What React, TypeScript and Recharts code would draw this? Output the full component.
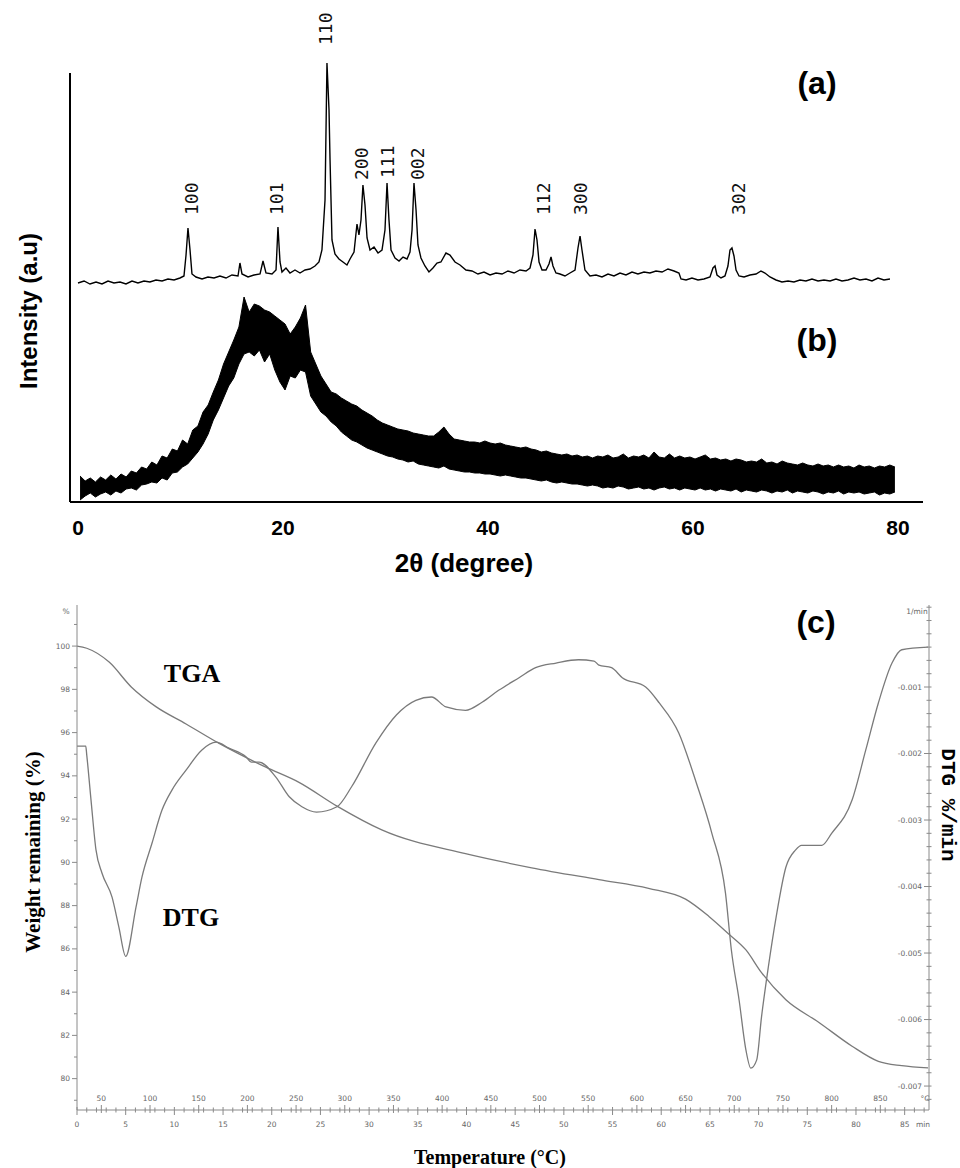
import { ComposedChart, Line, Area, XAxis, YAxis, ReferenceLine, ReferenceDot } from 'recharts'

// ---------- XRD, panel (a): [2θ, intensity a.u.]
const patternA: [number, number][] = [
  [0, 219], [0.59, 221], [1.17, 218], [1.76, 220], [2.34, 218], [2.93, 221], [3.51, 219], [4.1, 220],
  [4.68, 218], [5.27, 221], [5.85, 219], [6.44, 221], [7.02, 220], [7.61, 222], [8.2, 221], [8.78, 223],
  [9.37, 222], [9.95, 224], [10.34, 226], [10.54, 247], [10.73, 274], [10.93, 252], [11.12, 228],
  [11.51, 225], [12.1, 223], [12.68, 225], [13.27, 224], [13.85, 226], [14.44, 224], [15.02, 227],
  [15.61, 226], [15.8, 239], [16.0, 228], [16.59, 225], [17.17, 227], [17.76, 228], [18.05, 241],
  [18.34, 229], [18.93, 228], [19.32, 232], [19.51, 275], [19.71, 240], [19.9, 230], [20.29, 234],
  [20.68, 229], [21.17, 232], [21.66, 229], [22.15, 232], [22.63, 233], [23.12, 236], [23.51, 240],
  [23.8, 252], [24.1, 302], [24.29, 439], [24.49, 392], [24.59, 342], [24.78, 262], [25.07, 248],
  [25.46, 243], [25.85, 240], [26.24, 237], [26.54, 243], [26.93, 250], [27.22, 278], [27.41, 267],
  [27.61, 282], [27.8, 317], [28.0, 297], [28.2, 264], [28.49, 252], [28.88, 255], [29.27, 249],
  [29.66, 252], [29.95, 272], [30.15, 319], [30.34, 282], [30.54, 252], [30.93, 244], [31.32, 241],
  [31.71, 245], [32.1, 243], [32.39, 250], [32.59, 272], [32.78, 319], [32.98, 292], [33.17, 257],
  [33.46, 244], [33.85, 236], [34.24, 230], [34.63, 234], [35.02, 239], [35.41, 240], [35.9, 249],
  [36.29, 247], [36.78, 240], [37.27, 237], [37.85, 232], [38.44, 231], [39.02, 228], [39.61, 230],
  [40.2, 227], [40.78, 229], [41.37, 228], [41.95, 231], [42.54, 229], [43.12, 232], [43.71, 231],
  [44.1, 234], [44.39, 247], [44.59, 273], [44.78, 262], [44.98, 240], [45.27, 232], [45.66, 232],
  [45.95, 238], [46.15, 245], [46.34, 236], [46.63, 229], [47.02, 228], [47.51, 226], [48.0, 229],
  [48.49, 232], [48.78, 254], [48.98, 266], [49.17, 252], [49.46, 232], [49.95, 226], [50.54, 227],
  [51.12, 225], [51.71, 228], [52.29, 226], [52.88, 229], [53.46, 227], [54.05, 230], [54.63, 228],
  [55.22, 230], [55.8, 229], [56.39, 231], [56.98, 230], [57.56, 233], [58.15, 231], [58.63, 229],
  [58.83, 223], [59.32, 222], [59.9, 224], [60.49, 222], [61.07, 223], [61.66, 225], [61.95, 234],
  [62.15, 236], [62.34, 227], [62.73, 224], [63.12, 226], [63.41, 236], [63.61, 252], [63.8, 254],
  [64.0, 246], [64.2, 232], [64.49, 226], [64.98, 225], [65.56, 227], [66.15, 228], [66.63, 231],
  [67.02, 229], [67.51, 225], [68.1, 222], [68.68, 220], [69.27, 221], [69.85, 220], [70.44, 222],
  [71.02, 221], [71.61, 223], [72.2, 221], [72.78, 222], [73.37, 221], [73.95, 223], [74.54, 221],
  [75.12, 222], [75.71, 224], [76.29, 222], [76.88, 223], [77.46, 221], [78.05, 224], [78.63, 222],
  [79.22, 223],
]

// ---------- XRD, panel (b): noisy amorphous band, read every 0.5° from 0.2°
const bandHigh = [
  26, 21, 24, 20, 25, 22, 27, 23, 28, 25, 31, 29, 35, 33, 40, 37, 46, 44, 53, 51,
  62, 58, 72, 76, 90, 97, 110, 122, 138, 150, 162, 175, 205, 190, 198, 196, 192, 190, 186, 182,
  178, 168, 175, 184, 197, 150, 138, 126, 118, 110, 108, 104, 101, 98, 96, 92, 89, 86, 82, 79,
  77, 75, 73, 72, 71, 69, 68, 67, 66, 66, 70, 75, 68, 63, 62, 61, 60, 60, 59, 61,
  59, 58, 59, 57, 56, 55, 54, 55, 53, 52, 50, 51, 49, 48, 47, 48, 46, 47, 45, 46,
  44, 46, 45, 47, 44, 45, 48, 44, 46, 45, 47, 44, 50, 45, 44, 48, 44, 46, 44, 45,
  43, 45, 47, 43, 44, 42, 43, 41, 43, 42, 40, 41, 40, 43, 39, 40, 38, 41, 39, 38,
  37, 39, 37, 36, 38, 36, 37, 35, 37, 35, 36, 34, 37, 35, 36, 34, 36, 35, 37, 35,
]
const bandLow = [
  2, 6, 9, 5, 8, 10, 7, 11, 9, 13, 14, 12, 17, 18, 20, 19, 24, 22, 29, 30,
  35, 38, 44, 50, 58, 68, 82, 92, 104, 116, 124, 138, 148, 150, 146, 152, 140, 148, 132, 120,
  112, 126, 124, 132, 130, 106, 98, 90, 86, 80, 76, 70, 66, 62, 60, 57, 54, 52, 50, 48,
  46, 45, 43, 42, 40, 41, 38, 37, 36, 35, 34, 36, 33, 32, 31, 30, 30, 29, 29, 28,
  28, 27, 26, 27, 26, 25, 24, 24, 23, 22, 21, 22, 20, 19, 20, 19, 18, 18, 17, 16,
  17, 16, 14, 15, 14, 16, 15, 13, 14, 15, 13, 14, 12, 14, 15, 13, 14, 12, 14, 13,
  12, 14, 12, 13, 11, 13, 12, 11, 13, 10, 12, 11, 10, 12, 11, 9, 11, 10, 12, 9,
  11, 10, 9, 11, 10, 8, 10, 9, 11, 8, 10, 9, 10, 8, 9, 10, 7, 9, 8, 10,
]

const hklNames = ['100', '101', '110', '200', '111', '002', '112', '300', '302']
const hklTheta = [11.1, 19.4, 24.1, 27.7, 30.2, 33.1, 45.4, 49.0, 64.4]
const hklLevel = [287, 287, 457, 322, 324, 322, 287, 287, 287]
const thetaTicks = [0, 20, 40, 60, 80]

// ---------- TGA / DTG (time in min)
const tgaTime = [0, 1.0, 3.3, 5.6, 8.1, 11.2, 14.6, 19.4, 22.8, 26.7, 31.3, 39.9, 46.7, 53.6, 58.7,
  62.5, 64.9, 66.9, 68.7, 70.3, 72.8, 76.2, 79.6, 82.3, 84.7, 87.4]
const tgaWeight = [100.0, 99.9, 99.26, 98.1, 97.2, 96.4, 95.5, 94.4, 93.7, 92.6, 91.5, 90.4, 89.75,
  89.2, 88.8, 88.3, 87.5, 86.7, 85.95, 84.9, 83.65, 82.6, 81.5, 80.8, 80.6, 80.5]

const dtgTime = [0, 0.9, 1.0, 1.44, 1.95, 2.57, 3.6, 4.3, 5.0, 6.06, 6.67, 7.7, 8.73, 9.75, 11.2, 12.8,
  14.3, 15.6, 17.35, 17.9, 18.7, 20.4, 21.8, 23.1, 24.6, 26.7, 28.2, 30.7, 32.8, 34.8, 36.4, 37.9,
  39.9, 41.6, 43.3, 45.4, 47.1, 49.2, 51.5, 53.1, 53.6, 54.9, 56.0, 58.4, 59.8, 61.8, 63.6, 65.2,
  66.6, 67.2, 68.0, 68.7, 69.2, 69.8, 70.3, 71.0, 71.8, 72.8, 73.8, 74.4, 76.5, 77.5, 79.6, 81.0,
  82.3, 83.7, 84.7, 87.4]
const dtgRate = [-0.00189, -0.00189, -0.00202, -0.0027, -0.00345, -0.0038, -0.00416, -0.00461, -0.00505,
  -0.00431, -0.00386, -0.00335, -0.00285, -0.00255, -0.00225, -0.00195, -0.00183, -0.00192, -0.00205,
  -0.00213, -0.00213, -0.00235, -0.00265, -0.0028, -0.00288, -0.0028, -0.0025, -0.00184, -0.00142,
  -0.0012, -0.00115, -0.0013, -0.00135, -0.00123, -0.00105, -0.00086, -0.00071, -0.00064, -0.00059,
  -0.00061, -0.00067, -0.00071, -0.00086, -0.001, -0.00124, -0.00169, -0.00244, -0.0032, -0.0041,
  -0.00495, -0.00571, -0.00646, -0.00673, -0.00661, -0.00596, -0.00521, -0.00446, -0.00371, -0.00345,
  -0.00338, -0.00338, -0.0032, -0.0027, -0.00195, -0.00124, -0.00064, -0.00044, -0.0004]

const weightTicks = [79, 80, 81, 82, 83, 84, 85, 86, 87, 88, 89, 90, 91, 92, 93, 94, 95, 96, 97, 98, 99, 100, 101]
const rateLabels = [-0.001, -0.002, -0.003, -0.004, -0.005, -0.006, -0.007]
const rateTicks = Array.from({ length: 38 }, (_, i) => +(-0.0072 + i * 0.0002).toFixed(4))
const timeTicks = Array.from({ length: 175 }, (_, i) => i * 0.5)

const aData = patternA.map(([theta, v]) => ({ theta, v }))
const bData = bandHigh.map((hi, i) => ({ theta: 0.2 + i * 0.5, band: [bandLow[i], hi] }))
const tgaData = tgaTime.map((t, i) => ({ t, w: tgaWeight[i] }))
const dtgData = dtgTime.map((t, i) => ({ t, d: dtgRate[i] }))

const GRAY = '#8a8a8a'
const small = { fontSize: 7.5, fill: '#666', fontFamily: 'DejaVu Sans' }

const HklLabel = (name: string) => (p: any) => (
  <text x={p.cx} y={p.cy} transform={`rotate(-90 ${p.cx} ${p.cy})`} textAnchor="start"
    dominantBaseline="central" fontSize={18} fontFamily="DejaVu Sans Mono" fill="#111">
    {name}
  </text>
)

const TimeTick = (p: any) => {
  const { x, y } = p
  const t = p.payload.value
  if (t % 5 === 0) {
    return (
      <g>
        <line x1={x} x2={x} y1={y - 3} y2={y + 5} stroke={GRAY} />
        <text x={x} y={y + 14} textAnchor="middle" dominantBaseline="central" {...small}>{t}</text>
      </g>
    )
  }
  if ((t - 2.5) % 5 === 0) {
    return (
      <g>
        <line x1={x} x2={x} y1={y - 5} y2={y + 3} stroke={GRAY} />
        <text x={x} y={y - 12} textAnchor="middle" dominantBaseline="central" {...small}>{25 + t * 10}</text>
      </g>
    )
  }
  if (Number.isInteger(t)) return <line x1={x} x2={x} y1={y - 2.5} y2={y + 2.5} stroke={GRAY} />
  return <g />
}

const WeightTick = (p: any) => {
  const { x, y } = p
  const v = p.payload.value
  const major = v % 2 === 0
  return (
    <g>
      <line x1={x - (major ? 5 : 3)} x2={x} y1={y} y2={y} stroke={GRAY} />
      {major && <text x={x - 7} y={y} textAnchor="end" dominantBaseline="central" {...small}>{v}</text>}
    </g>
  )
}

const RateTick = (p: any) => {
  const { x, y } = p
  const v = p.payload.value
  const major = rateLabels.some((r) => Math.abs(r - v) < 1e-7)
  return (
    <g>
      <line x1={x - (major ? 5 : 2.5)} x2={x + 2.5} y1={y} y2={y} stroke={GRAY} />
      {major && <text x={x - 7} y={y} textAnchor="end" dominantBaseline="central" {...small}>{v.toFixed(3)}</text>}
    </g>
  )
}

export default function App() {
  const sans = 'Liberation Sans, Arial, sans-serif'
  const serif = 'Liberation Serif, Times New Roman, serif'
  return (
    <div style={{ position: 'absolute', left: 0, top: 0, width: 960, height: 1168, background: '#fff' }}>
      <div style={{ position: 'absolute', left: 0, top: 0 }}>
        <ComposedChart width={960} height={580} margin={{ top: 10, right: 37, bottom: 48, left: 70 }}>
          <XAxis type="number" dataKey="theta" domain={[-0.78, 82.44]} ticks={thetaTicks} interval={0}
            height={30} tickLine={false} tickSize={6} tickMargin={12}
            axisLine={{ stroke: '#000', strokeWidth: 2 }}
            tick={{ fontSize: 21, fontWeight: 700, fill: '#000', fontFamily: sans }} />
          <YAxis hide type="number" domain={[0, 492]} />
          <ReferenceLine segment={[{ x: -0.78, y: 0 }, { x: -0.78, y: 429 }]} stroke="#000" strokeWidth={2}
            ifOverflow="visible" />
          <Area data={bData} dataKey="band" type="linear" stroke="#000" strokeWidth={1} fill="#000"
            fillOpacity={1} dot={false} activeDot={false} isAnimationActive={false} />
          <Line data={aData} dataKey="v" type="linear" stroke="#000" strokeWidth={1.4} dot={false}
            activeDot={false} isAnimationActive={false} />
          {hklNames.map((n, i) => (
            <ReferenceDot key={n} x={hklTheta[i]} y={hklLevel[i]} r={0} shape={HklLabel(n)} />
          ))}
        </ComposedChart>
      </div>

      <div style={{ position: 'absolute', left: 0, top: 580 }}>
        <ComposedChart width={960} height={588} margin={{ top: 25, right: 0, bottom: 28, left: 27 }}>
          <XAxis type="number" dataKey="t" domain={[0, 87.5]} ticks={timeTicks} interval={0} height={30}
            tickSize={0} tickMargin={0} tickLine={false} axisLine={{ stroke: GRAY }} tick={TimeTick} />
          <YAxis yAxisId="w" orientation="left" type="number" width={50} domain={[78.55, 101.9]}
            ticks={weightTicks} interval={0} tickSize={0} tickMargin={0} tickLine={false}
            axisLine={{ stroke: GRAY }} tick={WeightTick} />
          <YAxis yAxisId="d" orientation="right" type="number" width={31} domain={[-0.00736, 0.000233]}
            ticks={rateTicks} interval={0} tickSize={0} tickMargin={0} tickLine={false}
            axisLine={{ stroke: GRAY }} tick={RateTick} />
          <Line yAxisId="w" data={tgaData} dataKey="w" type="monotone" stroke="#7a7a7a" strokeWidth={1.3}
            dot={false} activeDot={false} isAnimationActive={false} />
          <Line yAxisId="d" data={dtgData} dataKey="d" type="monotone" stroke="#7a7a7a" strokeWidth={1.3}
            dot={false} activeDot={false} isAnimationActive={false} />
        </ComposedChart>
      </div>

      <svg width={960} height={1168} style={{ position: 'absolute', left: 0, top: 0, pointerEvents: 'none' }}>
        <text x={28} y={311} transform="rotate(-90 28 311)" textAnchor="middle" dominantBaseline="central"
          fontSize={24} fontWeight={700} fontFamily={sans}>Intensity (a.u)</text>
        <text x={817} y={83} textAnchor="middle" dominantBaseline="central" fontSize={32} fontWeight={700}
          fontFamily={sans}>(a)</text>
        <text x={817} y={340} textAnchor="middle" dominantBaseline="central" fontSize={32} fontWeight={700}
          fontFamily={sans}>(b)</text>
        <text x={464} y={563} textAnchor="middle" dominantBaseline="central" fontSize={26} fontWeight={700}
          fontFamily={sans}>2θ (degree)</text>

        <text x={816} y={622} textAnchor="middle" dominantBaseline="central" fontSize={32} fontWeight={700}
          fontFamily={sans}>(c)</text>
        <text x={192} y={673} textAnchor="middle" dominantBaseline="central" fontSize={26} fontWeight={700}
          fontFamily={serif}>TGA</text>
        <text x={191} y={917} textAnchor="middle" dominantBaseline="central" fontSize={26} fontWeight={700}
          fontFamily={serif}>DTG</text>
        <text x={33} y={852} transform="rotate(-90 33 852)" textAnchor="middle" dominantBaseline="central"
          fontSize={21} fontWeight={700} fontFamily={serif}>Weight remaining  (%)</text>
        <text x={947} y={805} transform="rotate(90 947 805)" textAnchor="middle" dominantBaseline="central"
          fontSize={21} fontWeight={700} fontFamily="Liberation Mono, monospace">DTG %/min</text>
        <text x={490} y={1157} textAnchor="middle" dominantBaseline="central" fontSize={20} fontWeight={700}
          fontFamily={serif}>Temperature (°C)</text>
        <text x={66} y={611} textAnchor="middle" dominantBaseline="central" {...small}>%</text>
        <text x={917} y={611} textAnchor="middle" dominantBaseline="central" {...small}>1/min</text>
        <text x={925} y={1098} textAnchor="middle" dominantBaseline="central" {...small}>°C</text>
        <text x={923} y={1124} textAnchor="middle" dominantBaseline="central" {...small}>min</text>
      </svg>
    </div>
  )
}
